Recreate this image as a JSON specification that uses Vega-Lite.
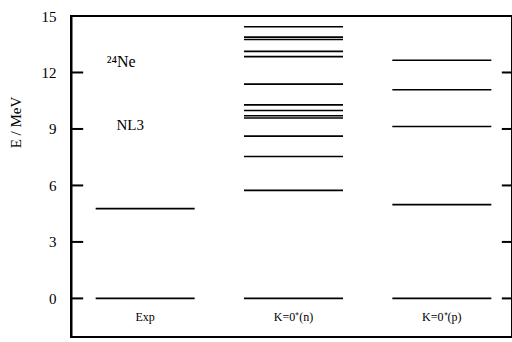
{
  "$schema": "https://vega.github.io/schema/vega-lite/v6.json",
  "width": 441,
  "height": 321,
  "autosize": "none",
  "padding": {"left": 71, "top": 16, "right": 0, "bottom": 5},
  "background": "white",
  "config": {
    "view": {"stroke": "black", "strokeWidth": 2},
    "font": "Liberation Serif",
    "axis": {"grid": false}
  },
  "datasets": {
    "levels": [
      {"col": "Exp", "E": 0},
      {"col": "Exp", "E": 4.77},
      {"col": "n", "E": 0},
      {"col": "n", "E": 5.74},
      {"col": "n", "E": 7.54},
      {"col": "n", "E": 8.62},
      {"col": "n", "E": 9.58},
      {"col": "n", "E": 9.7},
      {"col": "n", "E": 9.98},
      {"col": "n", "E": 10.28},
      {"col": "n", "E": 11.38},
      {"col": "n", "E": 12.84},
      {"col": "n", "E": 13.12},
      {"col": "n", "E": 13.75},
      {"col": "n", "E": 13.88},
      {"col": "n", "E": 14.43},
      {"col": "p", "E": 0},
      {"col": "p", "E": 4.98},
      {"col": "p", "E": 9.13},
      {"col": "p", "E": 11.08},
      {"col": "p", "E": 12.65}
    ],
    "labels": [
      {"col": "Exp", "E": -1.0, "text": "Exp"},
      {"col": "n", "E": -1.0, "text": "K=0⁺(n)"},
      {"col": "p", "E": -1.0, "text": "K=0⁺(p)"}
    ],
    "ticks": [
      {"E": 0}, {"E": 3}, {"E": 6}, {"E": 9}, {"E": 12}
    ]
  },
  "layer": [
    {
      "data": {"name": "levels"},
      "mark": {"type": "tick", "color": "black", "size": 99, "thickness": 1.6, "opacity": 1},
      "encoding": {
        "x": {"field": "col", "type": "nominal",
              "scale": {"type": "band", "domain": ["Exp", "n", "p"], "range": [0, 445], "paddingInner": 0, "paddingOuter": 0},
              "axis": null},
        "y": {"field": "E", "type": "quantitative",
              "scale": {"domain": [-2.05, 15], "nice": false, "zero": false},
              "axis": {"orient": "left", "values": [0, 3, 6, 9, 12, 15], "ticks": false,
                       "domainColor": "black", "domainWidth": 2, "labelFontSize": 15, "labelColor": "black", "labelPadding": 15,
                       "labelFont": "Liberation Serif",
                       "title": "E / MeV", "titleFont": "Liberation Serif", "titleFontSize": 15, "titleFontWeight": "normal",
                       "titleColor": "black", "titleX": -56, "titleY": 106, "titleAngle": -90, "titleBaseline": "middle", "titleAlign": "center"}}
      }
    },
    {
      "data": {"name": "ticks"},
      "mark": {"type": "tick", "orient": "horizontal", "color": "black", "size": 12, "thickness": 2, "opacity": 1, "xOffset": -68},
      "encoding": {
        "x": {"datum": "Exp", "type": "nominal"},
        "y": {"field": "E", "type": "quantitative"}
      }
    },
    {
      "data": {"name": "ticks"},
      "mark": {"type": "tick", "orient": "horizontal", "color": "black", "size": 10, "thickness": 2, "opacity": 1, "xOffset": 65},
      "encoding": {
        "x": {"datum": "p", "type": "nominal"},
        "y": {"field": "E", "type": "quantitative"}
      }
    },
    {
      "data": {"name": "labels"},
      "mark": {"type": "text", "fontSize": 12, "color": "black", "baseline": "middle", "font": "Liberation Serif"},
      "encoding": {
        "x": {"field": "col", "type": "nominal"},
        "y": {"field": "E", "type": "quantitative"},
        "text": {"field": "text"}
      }
    },
    {
      "data": {"values": [{"col": "Exp", "E": 12.55, "text": "²⁴Ne"}]},
      "mark": {"type": "text", "fontSize": 16, "color": "black", "baseline": "middle", "dx": -24, "font": "Liberation Serif"},
      "encoding": {
        "x": {"field": "col", "type": "nominal"},
        "y": {"field": "E", "type": "quantitative"},
        "text": {"field": "text"}
      }
    },
    {
      "data": {"values": [{"col": "Exp", "E": 9.2, "text": "NL3"}]},
      "mark": {"type": "text", "fontSize": 15, "color": "black", "baseline": "middle", "dx": -15, "font": "Liberation Serif"},
      "encoding": {
        "x": {"field": "col", "type": "nominal"},
        "y": {"field": "E", "type": "quantitative"},
        "text": {"field": "text"}
      }
    }
  ]
}
